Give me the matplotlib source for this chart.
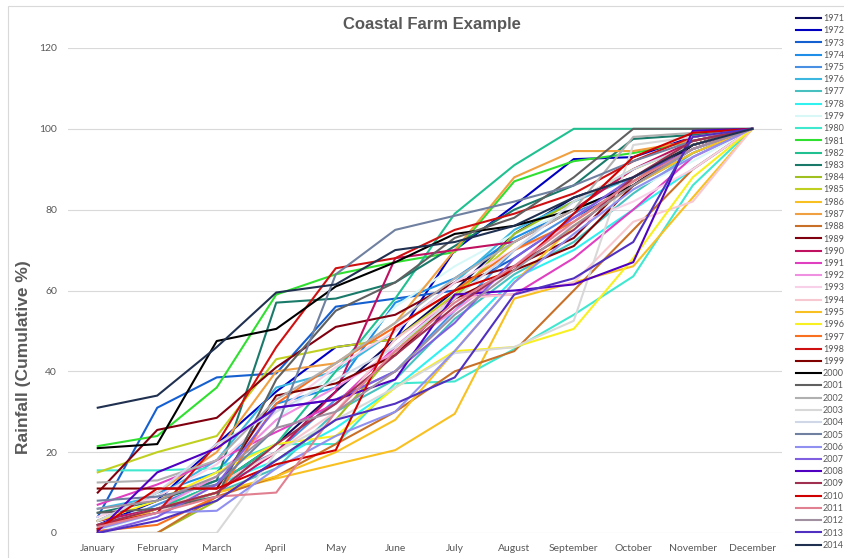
import matplotlib.pyplot as plt
from matplotlib.patches import Rectangle

months = ["January", "February", "March", "April", "May", "June", "July",
          "August", "September", "October", "November", "December"]

years = list(range(1971, 2015))

# cumulative rainfall (%) per month, one list per year
r1971 = [1, 6, 12, 22, 35, 48, 60, 74, 83, 88, 96, 100]
r1972 = [2, 8, 22, 35, 46, 48, 70, 81, 92.5, 93, 98, 100]
r1973 = [4, 31, 38.5, 39.5, 56, 58, 60, 68, 78, 86, 95, 100]
r1974 = [3, 10, 15, 32, 36, 57, 63, 73, 80, 86, 94, 100]
r1975 = [1, 7, 13, 20, 33, 40, 55, 70, 79, 87, 96, 100]
r1976 = [6, 9, 18, 36, 40, 50, 62, 75, 82, 88, 95, 100]
r1977 = [2, 5, 10, 16, 30, 38, 53, 64, 72, 84, 94, 100]
r1978 = [3, 6, 12, 18, 26, 36, 48, 63, 70, 80, 90, 100]
r1979 = [0.5, 5, 14, 28, 40, 56, 66, 74, 80, 85, 92, 100]
r1980 = [15.5, 15.5, 16, 22, 22, 37, 37.5, 45.5, 54, 63.5, 86, 100]
r1981 = [21.5, 24, 36, 59, 64, 67, 69.5, 87, 92, 94, 97, 100]
r1982 = [2, 6, 12, 22, 40, 58, 79, 91, 100, 100, 100, 100]
r1983 = [5, 8, 13, 57, 58, 62, 71, 80, 86, 97.5, 98.5, 100]
r1984 = [0, 0, 8, 18, 28, 45, 58, 74, 82, 90, 96, 100]
r1985 = [15, 20, 24, 43, 46, 48, 59, 72, 80, 90, 96, 100]
r1986 = [1, 6, 10, 13.5, 17, 20.5, 29.5, 58, 62, 66, 83, 100]
r1987 = [3, 10, 20, 40, 42, 52, 70, 88, 94.5, 94.5, 97, 100]
r1988 = [0, 0, 9, 14, 22, 30, 40, 45, 60, 75, 90, 100]
r1989 = [10, 25.5, 28.5, 41, 51, 54, 62, 66, 73, 88, 96, 100]
r1990 = [3, 6, 10, 20, 35, 68, 70, 72, 80, 90, 97, 100]
r1991 = [7, 12, 18, 25, 32, 46, 58.5, 59, 68, 80, 93, 100]
r1992 = [2, 6, 14, 28, 36, 45, 55, 66, 78, 88, 95, 100]
r1993 = [4, 9, 17, 30, 41, 50, 62, 70, 76, 82, 90, 100]
r1994 = [1, 5, 12, 20, 30, 48, 58, 59, 62, 77, 82, 100]
r1995 = [1, 6, 10, 14, 20, 28, 45, 62, 76, 86, 94, 100]
r1996 = [3, 8, 15, 22, 24, 36, 45, 46, 50.5, 68, 88, 100]
r1997 = [0.5, 2, 9, 32, 42, 51, 60, 70, 77, 87, 96, 100]
r1998 = [2, 5, 22, 46, 65.5, 68, 75, 79, 84, 92, 98, 100]
r1999 = [11, 11, 11, 34, 37, 44, 58, 65, 71, 86, 96, 100]
r2000 = [21, 22, 47.5, 50.5, 61, 67, 74, 76, 80, 86, 96, 100]
r2001 = [5, 6, 9, 38, 55, 62, 73, 78, 88, 100, 100, 100]
r2002 = [12.5, 13, 18, 33, 42, 52, 63, 72, 80, 98, 99, 100]
r2003 = [0, 0, 0, 20, 28, 36, 44.5, 46, 52.5, 96, 98, 100]
r2004 = [3, 10, 22, 30, 38, 46, 58, 70, 82, 90, 96, 100]
r2005 = [8, 9, 12, 26, 64, 75, 78.5, 82, 86, 92, 97, 100]
r2006 = [1, 5, 5.5, 16, 24, 30, 45, 62, 74, 85, 93, 100]
r2007 = [0, 4, 12, 31, 33, 40, 52, 68, 78, 88, 95, 100]
r2008 = [0.5, 15, 21, 31, 33, 38, 59, 60, 61.5, 67, 99.5, 100]
r2009 = [2, 6, 10, 22, 32, 44, 56, 66, 75, 88, 97, 100]
r2010 = [1, 11, 11, 17, 20.5, 51, 60, 65, 79, 93, 99, 100]
r2011 = [1.5, 5, 9, 10, 30, 45, 57, 66, 77, 87, 95, 100]
r2012 = [6, 8, 14, 26, 30, 40, 54, 65, 76, 86, 95, 100]
r2013 = [0, 3, 8, 18, 28, 32, 38.5, 59, 63, 72, 98, 100]
r2014 = [31, 34, 46, 59.5, 61.5, 70, 72, 76, 83, 88, 96, 100]

series = [r1971, r1972, r1973, r1974, r1975, r1976, r1977, r1978, r1979, r1980,
          r1981, r1982, r1983, r1984, r1985, r1986, r1987, r1988, r1989, r1990,
          r1991, r1992, r1993, r1994, r1995, r1996, r1997, r1998, r1999, r2000,
          r2001, r2002, r2003, r2004, r2005, r2006, r2007, r2008, r2009, r2010,
          r2011, r2012, r2013, r2014]

colors = ["#0a0a5e", "#0000c0", "#1560d0", "#1e8ee8", "#4a90e2", "#3cb8e0",
          "#48c0c0", "#30f0f0", "#d8f8f8", "#40e8d0", "#30e030", "#20c090",
          "#1a7a6a", "#a0c020", "#c0d020", "#f8c020", "#f0a040", "#c87028",
          "#800010", "#c01060", "#e040c0", "#f090e0", "#f8d0e8", "#f8c8d0",
          "#f8c020", "#f8f020", "#f87020", "#d01010", "#800000", "#000000",
          "#606060", "#b0b0b0", "#d8d8d8", "#d0d8e8", "#7080a0", "#9090f0",
          "#8060e0", "#5000c0", "#a03050", "#d00000", "#e08090", "#a090a0",
          "#5030c0", "#203050"]

fig = plt.figure(figsize=(8.45, 5.58), dpi=100)
ax = fig.add_axes([68 / 845, 25 / 558, (782 - 68) / 845, (533 - 48) / 558])

x = list(range(len(months)))
for yr, vals, c in zip(years, series, colors):
    ax.plot(x, vals, color=c, lw=1.5, label=str(yr))

ax.set_xlim(-0.5, 11.5)
ax.set_ylim(0, 120)
ax.set_yticks(range(0, 121, 20))
ax.set_xticks(x)
ax.set_xticklabels(months)
ax.grid(axis="y", color="#d9d9d9", lw=0.8)
ax.set_axisbelow(True)
for s in ax.spines.values():
    s.set_visible(False)
ax.tick_params(length=0, labelsize=7.5, labelcolor="#595959", pad=8)
for lab in ax.get_xticklabels() + ax.get_yticklabels():
    lab.set_fontfamily("Lato")

ax.set_ylabel("Rainfall (Cumulative %)", fontsize=12.5, fontweight="bold",
              color="#595959", family="Liberation Sans")
ax.yaxis.set_label_coords((31 - 68) / 714, (533 - 357) / 485)
fig.text(432 / 845, 1 - 25 / 558, "Coastal Farm Example", ha="center", va="center",
         fontsize=12, fontweight="bold", color="#595959", family="Liberation Sans")

leg = ax.legend(loc="upper left", bbox_to_anchor=(796 / 845, 1 - 14 / 558),
                bbox_transform=fig.transFigure, frameon=False, fontsize=6.5,
                labelspacing=0.36, handlelength=2.8, handletextpad=0.2,
                borderpad=0, borderaxespad=0)
for t in leg.get_texts():
    t.set_color("#595959")
    t.set_fontfamily("Lato")

# chart area border
fig.patches.append(Rectangle((8 / 845, -0.02), 1.0, 1 - 6 / 558 + 0.02,
                             transform=fig.transFigure, fill=False,
                             edgecolor="#d9d9d9", lw=0.8))

fig.savefig("out.png", dpi=100)
